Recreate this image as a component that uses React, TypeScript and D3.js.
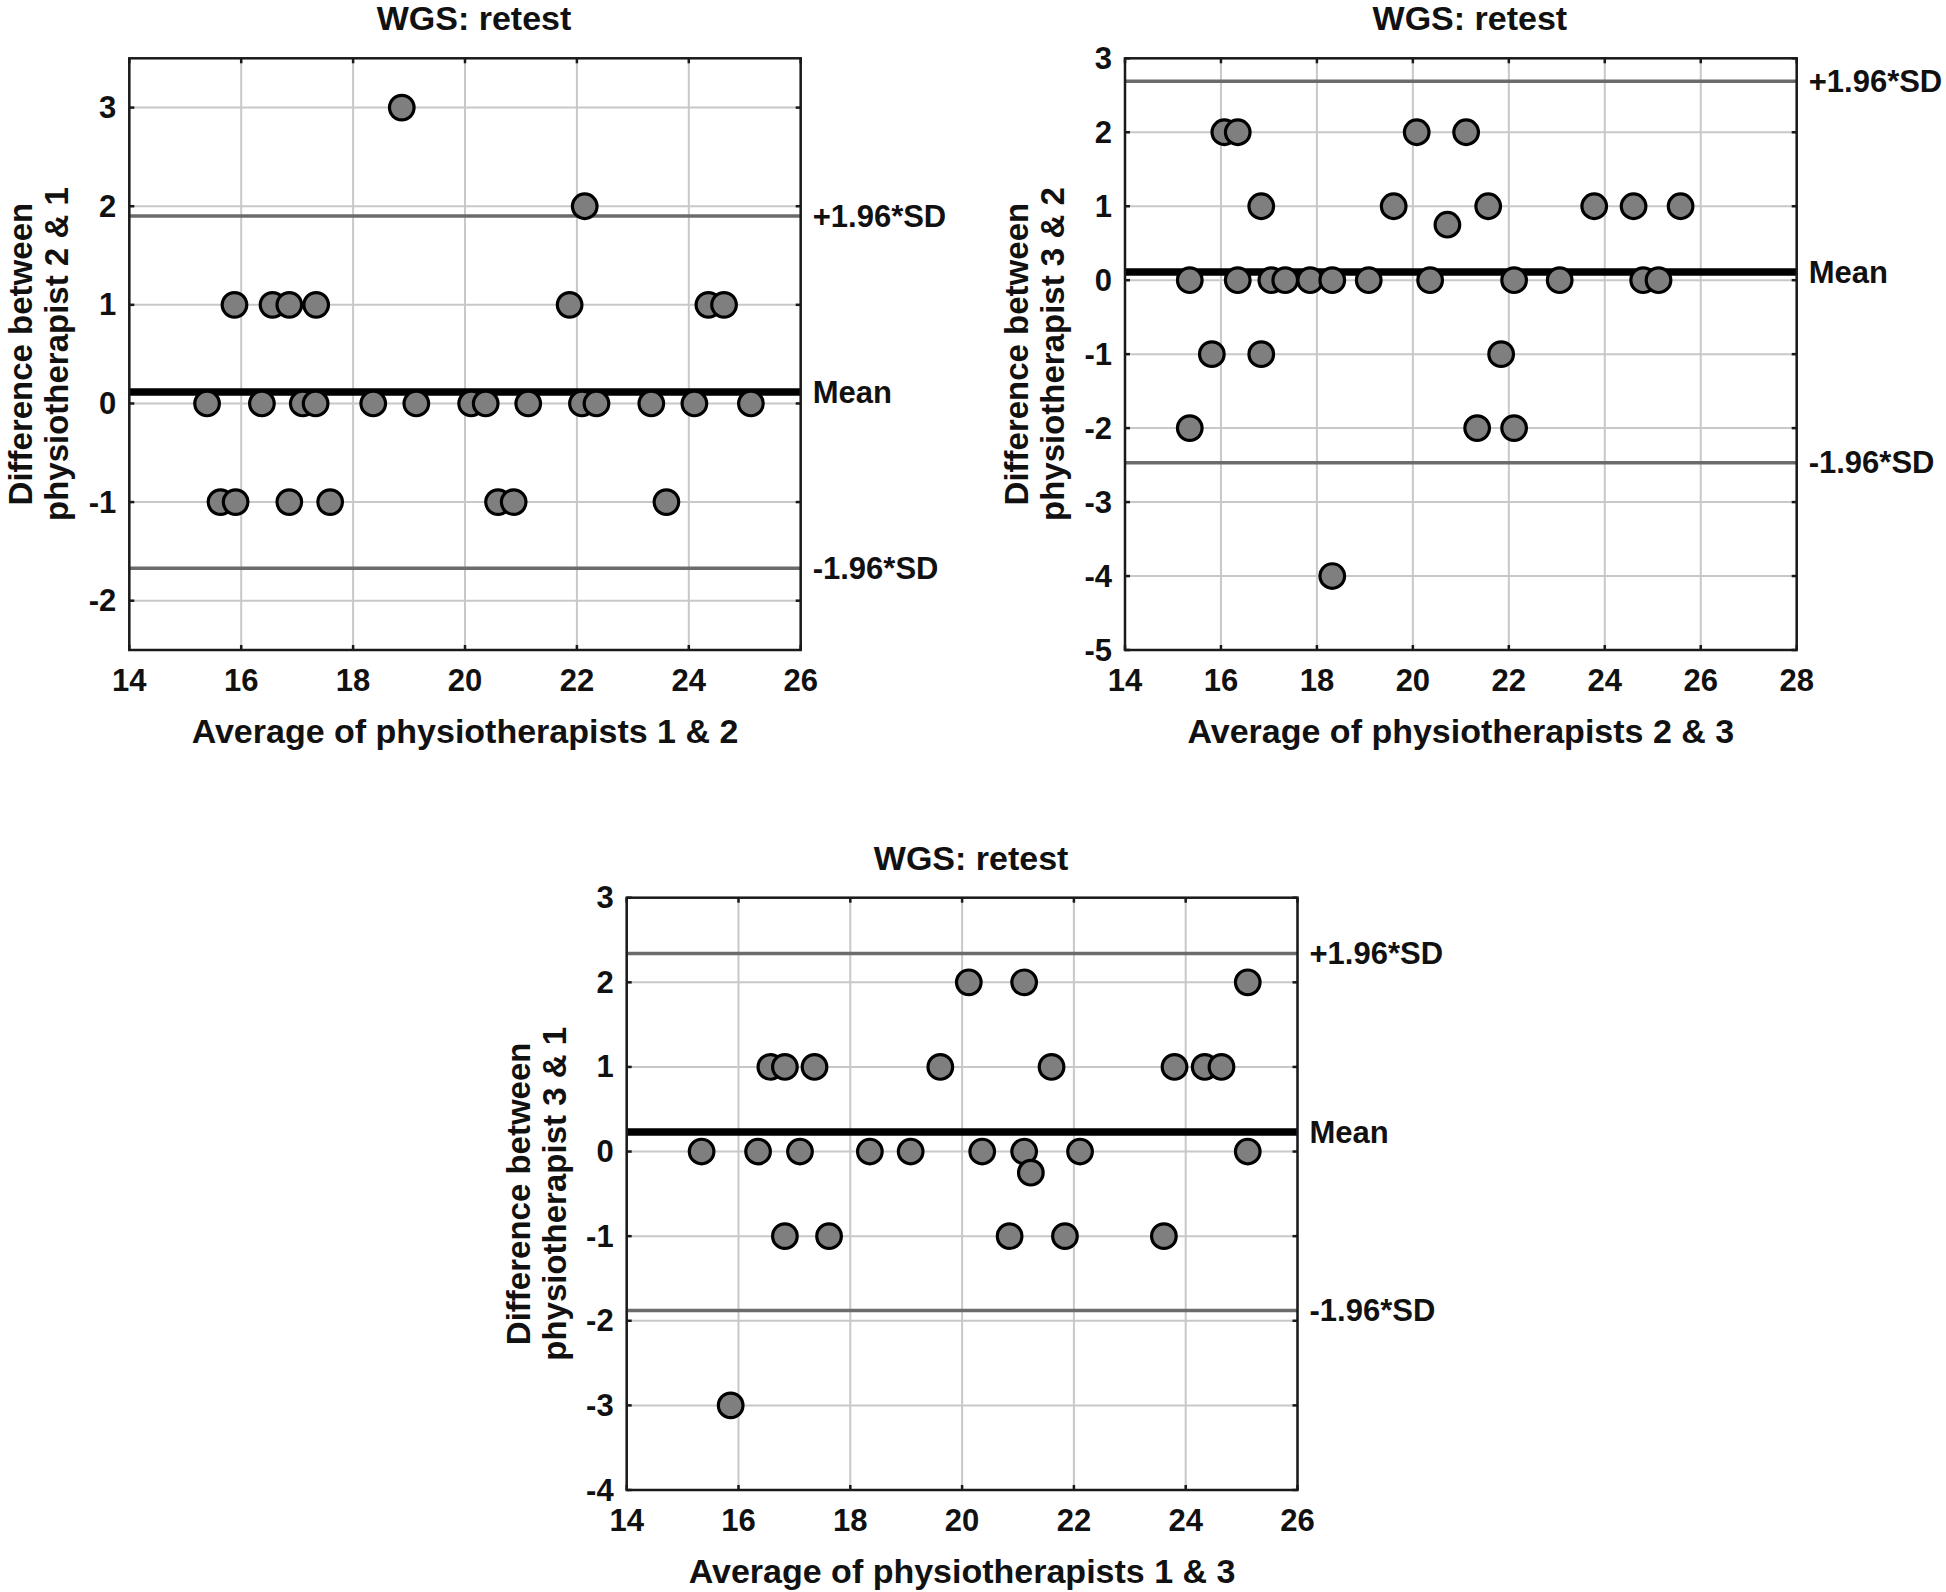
import React from "react";
import * as d3 from "d3";

// ---------- Data ----------
const titleText = "WGS: retest";

// Panel A: physiotherapists 1 & 2
const avg12 = [18.87, 22.14, 15.88, 16.56, 16.86, 17.34, 21.87, 24.35, 24.63,
  15.39, 16.37, 17.10, 17.33, 18.36, 19.13, 20.11, 20.37, 21.13, 22.09, 22.35, 23.33, 24.10, 25.11,
  15.63, 15.90, 16.86, 17.59, 20.59, 20.87, 23.60];
const diff21 = [3, 2, 1, 1, 1, 1, 1, 1, 1,
  0, 0, 0, 0, 0, 0, 0, 0, 0, 0, 0, 0, 0, 0,
  -1, -1, -1, -1, -1, -1, -1];
const stats12 = { mean: 0.115, upper: 1.9, lower: -1.67 };

// Panel B: physiotherapists 2 & 3
const avg23 = [16.07, 16.35, 20.08, 21.11,
  16.84, 19.60, 21.57, 23.78, 24.60, 25.58,
  20.72,
  15.35, 16.35, 17.05, 17.34, 17.86, 18.32, 19.08, 20.36, 22.11, 23.06, 24.80, 25.12,
  15.81, 16.84, 21.84,
  15.35, 21.34, 22.11,
  18.32];
const diff32 = [2, 2, 2, 2,
  1, 1, 1, 1, 1, 1,
  0.75,
  0, 0, 0, 0, 0, 0, 0, 0, 0, 0, 0, 0,
  -1, -1, -1,
  -2, -2, -2,
  -4];
const stats23 = { mean: 0.11, upper: 2.69, lower: -2.47 };

// Panel C: physiotherapists 1 & 3
const avg13 = [20.12, 21.11, 25.11,
  16.57, 16.83, 17.36, 19.61, 21.60, 23.80, 24.34, 24.64,
  15.34, 16.35, 17.10, 18.35, 19.08, 20.36, 21.11, 22.11, 25.11,
  21.23,
  16.83, 17.62, 20.85, 21.84, 23.61,
  15.86];
const diff31 = [2, 2, 2,
  1, 1, 1, 1, 1, 1, 1, 1,
  0, 0, 0, 0, 0, 0, 0, 0, 0,
  -0.25,
  -1, -1, -1, -1, -1,
  -3];
const stats13 = { mean: 0.23, upper: 2.34, lower: -1.88 };

const xTicksA = [14, 16, 18, 20, 22, 24, 26];
const yTicksA = [-2, -1, 0, 1, 2, 3];
const xTicksB = [14, 16, 18, 20, 22, 24, 26, 28];
const yTicksB = [-5, -4, -3, -2, -1, 0, 1, 2, 3];
const xTicksC = [14, 16, 18, 20, 22, 24, 26];
const yTicksC = [-4, -3, -2, -1, 0, 1, 2, 3];

const labelUpper = "+1.96*SD";
const labelMean = "Mean";
const labelLower = "-1.96*SD";

// ---------- Layout ----------
const FONT = "'Liberation Sans', Arial, sans-serif";
const W = 1946;
const H = 1592;

type PanelCfg = {
  left: number; right: number; top: number; bottom: number;
  xDomain: [number, number]; yDomain: [number, number];
  xTicks: number[]; yTicks: number[];
  xs: number[]; ys: number[];
  stats: { mean: number; upper: number; lower: number };
  xLabel: string; yLabel1: string; yLabel2: string;
};

const panels: PanelCfg[] = [
  {
    left: 129.3, right: 800.7, top: 58.3, bottom: 650,
    xDomain: [14, 26], yDomain: [-2.5, 3.5],
    xTicks: xTicksA, yTicks: yTicksA, xs: avg12, ys: diff21, stats: stats12,
    xLabel: "Average of physiotherapists 1 & 2",
    yLabel1: "Difference between", yLabel2: "physiotherapist 2 & 1",
  },
  {
    left: 1125, right: 1796.7, top: 58.3, bottom: 650,
    xDomain: [14, 28], yDomain: [-5, 3],
    xTicks: xTicksB, yTicks: yTicksB, xs: avg23, ys: diff32, stats: stats23,
    xLabel: "Average of physiotherapists 2 & 3",
    yLabel1: "Difference between", yLabel2: "physiotherapist 3 & 2",
  },
  {
    left: 626.7, right: 1297.5, top: 897.7, bottom: 1490,
    xDomain: [14, 26], yDomain: [-4, 3],
    xTicks: xTicksC, yTicks: yTicksC, xs: avg13, ys: diff31, stats: stats13,
    xLabel: "Average of physiotherapists 1 & 3",
    yLabel1: "Difference between", yLabel2: "physiotherapist 3 & 1",
  },
];

function Panel({ cfg, idx }: { cfg: PanelCfg; idx: number }) {
  const x = d3.scaleLinear().domain(cfg.xDomain).range([cfg.left, cfg.right]);
  const y = d3.scaleLinear().domain(cfg.yDomain).range([cfg.bottom, cfg.top]);
  const cx = (cfg.left + cfg.right) / 2;
  const cy = (cfg.top + cfg.bottom) / 2;
  const tickLen = 5;
  const frame = "#1a1a1a";
  const grid = "#c8c8c8";
  const fs = 31;
  const fl = 34;
  const txt = "#111";
  const clipId = `clip${idx}`;
  const T = (props: any) => (
    <text fontFamily={FONT} fontWeight="bold" fill={txt} {...props} />
  );
  return (
    <g>
      <defs>
        <clipPath id={clipId}>
          <rect x={cfg.left - 2} y={cfg.top - 2} width={cfg.right - cfg.left + 4} height={cfg.bottom - cfg.top + 4} />
        </clipPath>
      </defs>
      {cfg.xTicks.map((t) => (
        <line key={"gx" + t} x1={x(t)} x2={x(t)} y1={cfg.top} y2={cfg.bottom} stroke={grid} strokeWidth={2} />
      ))}
      {cfg.yTicks.map((t) => (
        <line key={"gy" + t} x1={cfg.left} x2={cfg.right} y1={y(t)} y2={y(t)} stroke={grid} strokeWidth={2} />
      ))}
      <line x1={cfg.left} x2={cfg.right} y1={y(cfg.stats.upper)} y2={y(cfg.stats.upper)} stroke="#6b6b6b" strokeWidth={3.5} />
      <line x1={cfg.left} x2={cfg.right} y1={y(cfg.stats.lower)} y2={y(cfg.stats.lower)} stroke="#6b6b6b" strokeWidth={3.5} />
      <line x1={cfg.left} x2={cfg.right} y1={y(cfg.stats.mean)} y2={y(cfg.stats.mean)} stroke="#000" strokeWidth={7.5} />
      <g clipPath={`url(#${clipId})`}>
        {cfg.xs.map((v, i) => (
          <circle key={"p" + i} cx={x(v)} cy={y(cfg.ys[i])} r={12.3} fill="#7f7f7f" stroke="#000" strokeWidth={3.2} />
        ))}
      </g>
      <rect x={cfg.left} y={cfg.top} width={cfg.right - cfg.left} height={cfg.bottom - cfg.top} fill="none" stroke={frame} strokeWidth={2.5} />
      {cfg.xTicks.map((t) => (
        <g key={"tx" + t}>
          <line x1={x(t)} x2={x(t)} y1={cfg.bottom} y2={cfg.bottom - tickLen} stroke={frame} strokeWidth={2.5} />
          <line x1={x(t)} x2={x(t)} y1={cfg.top} y2={cfg.top + tickLen} stroke={frame} strokeWidth={2.5} />
          <T x={x(t)} y={cfg.bottom + 30} textAnchor="middle" dominantBaseline="central" fontSize={fs}>{t}</T>
        </g>
      ))}
      {cfg.yTicks.map((t) => (
        <g key={"ty" + t}>
          <line x1={cfg.left} x2={cfg.left + tickLen} y1={y(t)} y2={y(t)} stroke={frame} strokeWidth={2.5} />
          <line x1={cfg.right} x2={cfg.right - tickLen} y1={y(t)} y2={y(t)} stroke={frame} strokeWidth={2.5} />
          <T x={cfg.left - 13} y={y(t)} textAnchor="end" dominantBaseline="central" fontSize={fs}>{t}</T>
        </g>
      ))}
      <T x={cfg.right + 12} y={y(cfg.stats.upper)} dominantBaseline="central" fontSize={fs}>{labelUpper}</T>
      <T x={cfg.right + 12} y={y(cfg.stats.mean)} dominantBaseline="central" fontSize={fs}>{labelMean}</T>
      <T x={cfg.right + 12} y={y(cfg.stats.lower)} dominantBaseline="central" fontSize={fs}>{labelLower}</T>
      <T x={cx + 9} y={cfg.top - 40} textAnchor="middle" dominantBaseline="central" fontSize={fl}>{titleText}</T>
      <T x={cx} y={cfg.bottom + 81} textAnchor="middle" dominantBaseline="central" fontSize={fl}>{cfg.xLabel}</T>
      <g transform={`translate(${cfg.left - 97}, ${cy}) rotate(-90)`}>
        <T x={0} y={0} textAnchor="middle" fontSize={33}>{cfg.yLabel1}</T>
        <T x={0} y={36} textAnchor="middle" fontSize={33}>{cfg.yLabel2}</T>
      </g>
    </g>
  );
}

export default function App() {
  return (
    <svg width={W} height={H} viewBox={`0 0 ${W} ${H}`} style={{ position: "absolute", left: 0, top: 0, background: "#fff" }}>
      <rect x={0} y={0} width={W} height={H} fill="#fff" />
      {panels.map((p, i) => (
        <Panel key={i} cfg={p} idx={i} />
      ))}
    </svg>
  );
}
